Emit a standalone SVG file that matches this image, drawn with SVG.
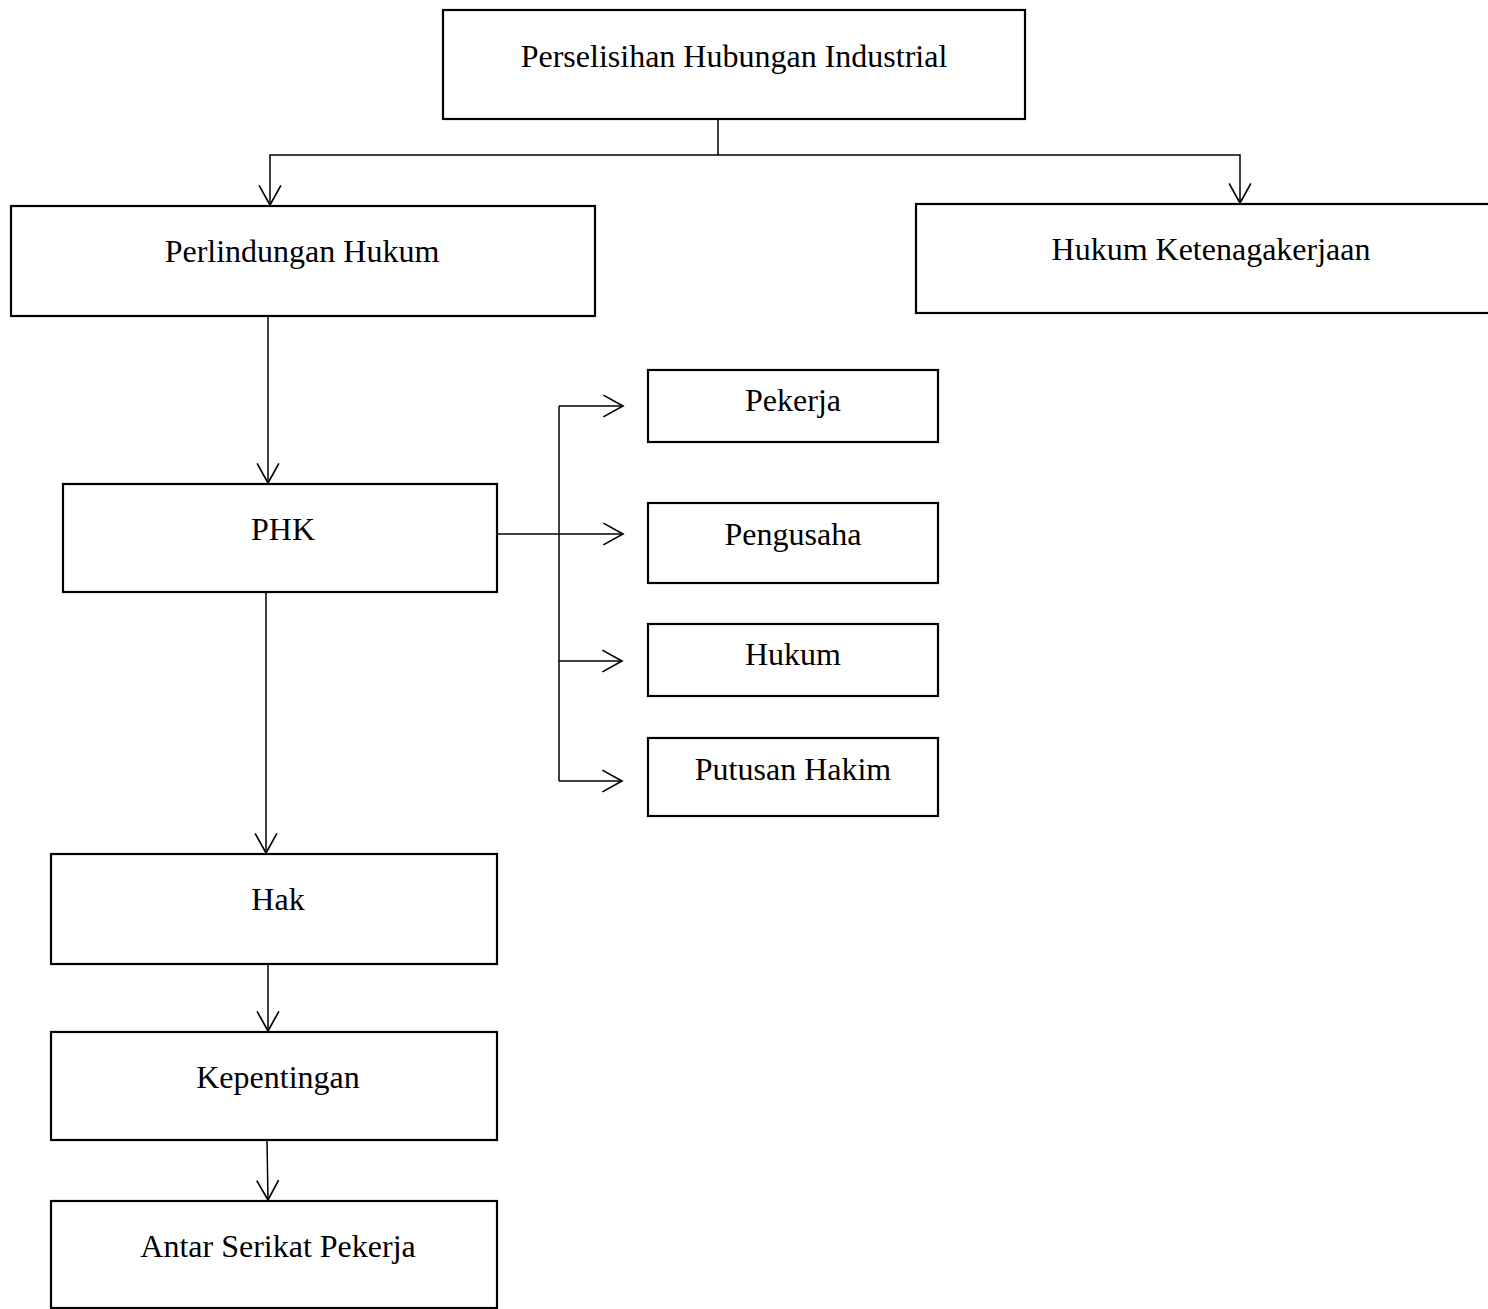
<svg xmlns="http://www.w3.org/2000/svg" width="1488" height="1309" viewBox="0 0 1488 1309">
<defs>
<style>
.box{fill:#fff;stroke:#000;stroke-width:2.2}
.lbl{font-family:"Liberation Serif","Times New Roman",serif;font-size:32px;fill:#000;text-anchor:middle}
.c{fill:none;stroke:#000;stroke-width:1.5}
</style>
<marker id="arr" markerUnits="userSpaceOnUse" markerWidth="24" markerHeight="24" viewBox="-1 -11 21 22" refX="18" refY="0" orient="auto">
<path d="M0,-10 L18,0 L0,10" fill="none" stroke="#000" stroke-width="1.5"/>
</marker>
</defs>
<rect width="1488" height="1309" fill="#fff"/>
<g id="connectors">
<path class="c" d="M718,119 V155"/>
<path class="c" d="M718,155 H270 V205" marker-end="url(#arr)"/>
<path class="c" d="M718,155 H1240 V203" marker-end="url(#arr)"/>
<path class="c" d="M268,316 V483" marker-end="url(#arr)"/>
<path class="c" d="M497,534 H623" marker-end="url(#arr)"/>
<path class="c" d="M559,406 V781"/>
<path class="c" d="M559,406 H623" marker-end="url(#arr)"/>
<path class="c" d="M559,661 H622" marker-end="url(#arr)"/>
<path class="c" d="M559,781 H622" marker-end="url(#arr)"/>
<path class="c" d="M266,592 V853" marker-end="url(#arr)"/>
<path class="c" d="M268,964 V1031" marker-end="url(#arr)"/>
<path class="c" d="M267,1140 L268,1200" marker-end="url(#arr)"/>
</g>
<g id="n-phi"><rect class="box" x="443" y="10" width="582" height="109"/><text class="lbl" x="734" y="67">Perselisihan Hubungan Industrial</text></g>
<g id="n-perlindungan"><rect class="box" x="11" y="206" width="584" height="110"/><text class="lbl" x="302" y="262">Perlindungan Hukum</text></g>
<g id="n-ketenagakerjaan"><rect class="box" x="916" y="204" width="580" height="109"/><text class="lbl" x="1211" y="260">Hukum Ketenagakerjaan</text></g>
<g id="n-phk"><rect class="box" x="63" y="484" width="434" height="108"/><text class="lbl" x="283" y="540">PHK</text></g>
<g id="n-pekerja"><rect class="box" x="648" y="370" width="290" height="72"/><text class="lbl" x="793" y="411">Pekerja</text></g>
<g id="n-pengusaha"><rect class="box" x="648" y="503" width="290" height="80"/><text class="lbl" x="793" y="545">Pengusaha</text></g>
<g id="n-hukum"><rect class="box" x="648" y="624" width="290" height="72"/><text class="lbl" x="793" y="665">Hukum</text></g>
<g id="n-putusan"><rect class="box" x="648" y="738" width="290" height="78"/><text class="lbl" x="793" y="780">Putusan Hakim</text></g>
<g id="n-hak"><rect class="box" x="51" y="854" width="446" height="110"/><text class="lbl" x="278" y="910">Hak</text></g>
<g id="n-kepentingan"><rect class="box" x="51" y="1032" width="446" height="108"/><text class="lbl" x="278" y="1088">Kepentingan</text></g>
<g id="n-antar"><rect class="box" x="51" y="1201" width="446" height="107"/><text class="lbl" x="278" y="1257">Antar Serikat Pekerja</text></g>
</svg>
